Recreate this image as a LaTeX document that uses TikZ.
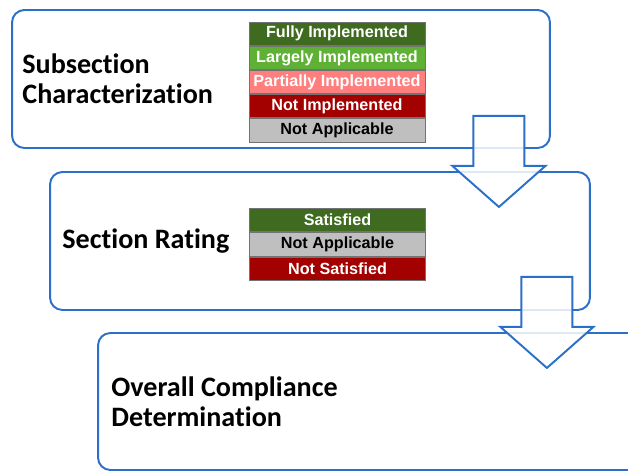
\documentclass[tikz,border=0pt]{standalone}
\usepackage{fontspec}
\setmainfont[Ligatures=CommonOff]{Carlito}
\newfontfamily\tblfont{Liberation Sans}
\usetikzlibrary{positioning,calc}
\definecolor{frm}{HTML}{2A6FC9}
\definecolor{fullg}{HTML}{3E6B20}
\definecolor{largg}{HTML}{5EB134}
\definecolor{partr}{HTML}{FF7E7E}
\definecolor{notr}{HTML}{A30000}
\definecolor{nagr}{HTML}{BFBFBF}
\newcommand{\blockdown}[1]{%
  \draw[blk] (#1) -- ++(-46.5,-41) -- ++(21,0) -- ++(0,-50) -- ++(51,0) -- ++(0,50) -- ++(21,0) -- cycle;}

\begin{document}
\begin{tikzpicture}[x=0.02cm, y=-0.02cm,
  stage/.style={draw=frm, line width=1.1pt, rounded corners=7pt, fill=white, inner sep=0pt},
  lbl/.style={font=\bfseries\fontsize{16}{17.2}\selectfont, align=left, inner sep=0pt},
  cell/.style={draw=black!55, line width=0.5pt, minimum width=3.52cm, minimum height=0.466cm,
               inner sep=0pt, text=white, font=\tblfont\bfseries\fontsize{9.2}{10}\selectfont},
  blk/.style={draw=frm, line width=1.1pt, fill=white, fill opacity=0.85, line join=miter}
]
\useasboundingbox (0,0) rectangle (628,472);
\clip (0,0) rectangle (628,472);

% the three stages
\node[stage, minimum width=10.76cm, minimum height=2.76cm] (sub) at (281,79) {};
\node[stage, minimum width=10.8cm, minimum height=2.76cm] (sec) at (320,241) {};
\node[stage, minimum width=11.64cm, minimum height=2.74cm] (ovr) at (389,401.5) {};

\node[lbl, right=0.22cm of sub.west] (subt) {Subsection\\Characterization};
\node[lbl, right=0.26cm of sec.west] (sect) {Section Rating};
\node[lbl, right=0.28cm of ovr.west] (ovrt) {Overall Compliance\\Determination};

% characterization scale
\node[cell, fill=fullg] (c1) at (337,33.7) {Fully Implemented};
\node[cell, fill=largg, below=0pt of c1] (c2) {Largely Implemented};
\node[cell, fill=partr, below=0pt of c2] (c3) {Partially Implemented};
\node[cell, fill=notr, below=0pt of c3] (c4) {Not Implemented};
\node[cell, fill=nagr, text=black, below=0pt of c4] (c5) {Not Applicable};

% rating scale
\node[cell, fill=fullg, minimum height=0.47cm] (r1) at (337.5,220) {Satisfied};
\node[cell, fill=nagr, text=black, minimum height=0.47cm, below=0pt of r1] (r2) {Not Applicable};
\node[cell, fill=notr, minimum height=0.47cm, below=0pt of r2] (r3) {Not Satisfied};

% flow arrows
\coordinate (t1) at ($(sub.south east)+(-52,58)$);
\coordinate (t2) at ($(sec.south east)+(-44,57)$);
\blockdown{t1}
\blockdown{t2}
\end{tikzpicture}
\end{document}
